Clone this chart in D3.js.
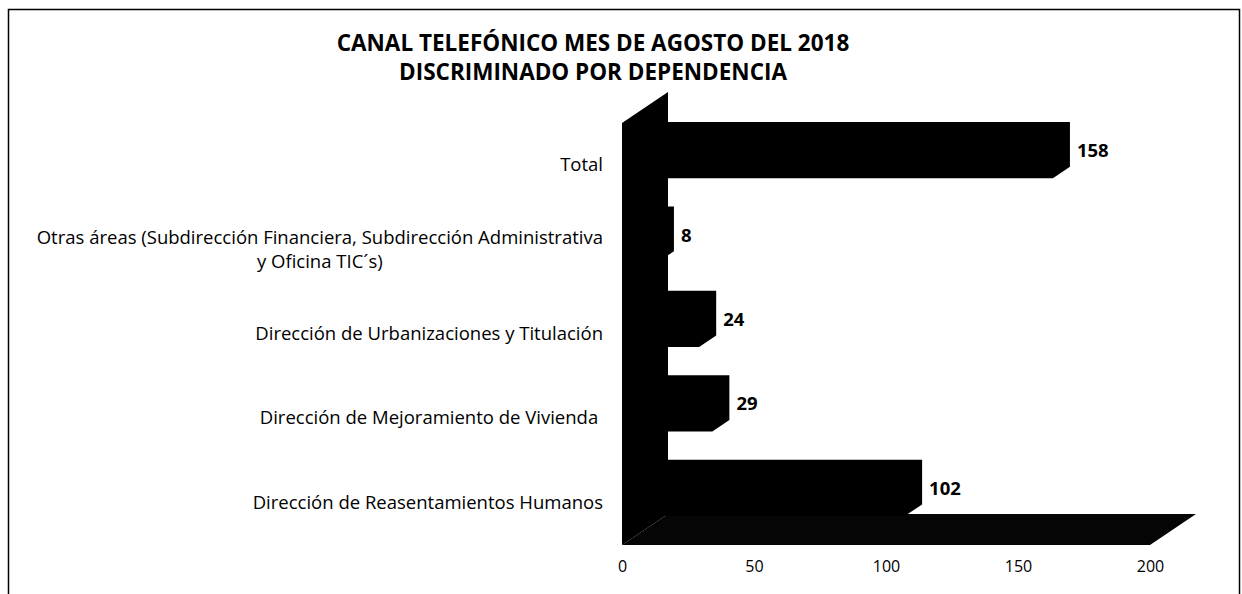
<!DOCTYPE html>
<html>
<head>
<meta charset="utf-8">
<script src="https://cdn.jsdelivr.net/npm/d3@7"></script>
<style>
  body { margin: 0; background: #fff; }
  svg text { font-family: "Open Sans", sans-serif; fill: #000; }
</style>
</head>
<body>
<div class="chart"></div>
<script>
// data (bottom to top as in the chart)
const categories = [
  "Dirección de Reasentamientos Humanos",
  "Dirección de Mejoramiento de Vivienda ",
  "Dirección de Urbanizaciones y Titulación",
  "Otras áreas (Subdirección Financiera, Subdirección Administrativa y Oficina TIC´s)",
  "Total"
];
const categoryLines = [
  ["Dirección de Reasentamientos Humanos"],
  ["Dirección de Mejoramiento de Vivienda "],
  ["Dirección de Urbanizaciones y Titulación"],
  ["Otras áreas (Subdirección Financiera, Subdirección Administrativa", "y Oficina TIC´s)"],
  ["Total"]
];
const values = [102, 29, 24, 8, 158];
const xTicks = [0, 50, 100, 150, 200];
const titleLines = ["CANAL TELEFÓNICO MES DE AGOSTO DEL 2018", "DISCRIMINADO POR DEPENDENCIA"];

const w = 1242, h = 594;
const plotTop = 123, plotBottom = 545;
// oblique depth of the 3d box
const DX = 46, DY = -31;
const zFront = 0.3, zBack = 0.67;
const lineGap = 24;

const svg = d3.select(".chart").append("svg")
  .attr("width", w).attr("height", h);

// frame
svg.append("rect")
  .attr("x", 8.5).attr("y", 9.5)
  .attr("width", 1231).attr("height", 620)
  .attr("fill", "none").attr("stroke", "#000").attr("stroke-width", 1.5);

// title
svg.append("g").selectAll("text")
  .data(titleLines).enter().append("text")
  .attr("x", 593)
  .attr("y", (d, i) => 51 + i * 29)
  .attr("text-anchor", "middle")
  .attr("font-size", 22.5)
  .attr("font-weight", "bold")
  .text(d => d);

const xScale = d3.scaleLinear().domain([0, 200]).range([622, 1150]);
const yScale = d3.scaleBand()
  .domain(categories.slice().reverse())
  .range([plotTop, plotBottom])
  .paddingInner(0.47).paddingOuter(0.235);

const pt = (x, y, z) => [x + DX * z, y + DY * z];

// floor
const x0 = xScale(0), x1 = xScale(200);
svg.append("path")
  .attr("d", d3.line()([pt(x0, plotBottom, 0), pt(x0, plotBottom, 1), pt(x1, plotBottom, 1), pt(x1, plotBottom, 0)]) + "Z")
  .attr("fill", "#050505");

// side wall at zero
svg.append("path")
  .attr("d", d3.line()([pt(x0, plotTop, 0), pt(x0, plotTop, 1), pt(x0, plotBottom, 1), pt(x0, plotBottom, 0)]) + "Z")
  .attr("fill", "#000");

// bars as 3d silhouettes
const barPath = (v, c) => {
  const yt = yScale(c), yb = yt + yScale.bandwidth();
  const xa = xScale(0), xv = xScale(v);
  return d3.line()([
    pt(xa, yt, zFront), pt(xa, yt, zBack), pt(xv, yt, zBack),
    pt(xv, yb, zBack), pt(xv, yb, zFront), pt(xa, yb, zFront)
  ]) + "Z";
};

svg.append("g").selectAll("path")
  .data(values).enter().append("path")
  .attr("d", (v, i) => barPath(v, categories[i]))
  .attr("fill", "#000");

// value labels
svg.append("g").selectAll("text")
  .data(values).enter().append("text")
  .attr("x", v => xScale(v) + DX * zBack + 7)
  .attr("y", (v, i) => yScale(categories[i]) + yScale.bandwidth() / 2 + DY * 0.45 + 6)
  .attr("font-size", 18.5)
  .attr("font-weight", "bold")
  .text(v => v);

// category labels
const catG = svg.append("g").selectAll("text")
  .data(categories).enter().append("text")
  .attr("font-size", 18.5)
  .attr("text-anchor", "middle")
  .style("white-space", "pre")
  .attr("transform", (c, i) => {
    const lines = categoryLines[i];
    return "translate(0," + (yScale(c) + yScale.bandwidth() / 2 - (lines.length - 1) * lineGap / 2 + 6) + ")";
  });

catG.each(function(c, i) {
  const t = d3.select(this);
  categoryLines[i].forEach((l, j) => {
    t.append("tspan").attr("y", j * lineGap).text(l);
  });
  // right align the block at 603, centre the lines within it
  const widths = [];
  t.selectAll("tspan").each(function() { widths.push(this.getComputedTextLength()); });
  const blockW = d3.max(widths);
  t.selectAll("tspan").attr("x", 603 - blockW / 2);
});

// x axis labels on the front edge
const xAxis = d3.axisBottom(xScale).tickValues(xTicks).tickSize(0).tickPadding(0);
const gx = svg.append("g")
  .attr("transform", "translate(0," + (plotBottom + 16) + ")")
  .call(xAxis);
gx.select(".domain").remove();
gx.selectAll("text")
  .attr("font-family", "Open Sans, sans-serif")
  .attr("font-size", 16)
  .attr("fill", "#000");
</script>
</body>
</html>
